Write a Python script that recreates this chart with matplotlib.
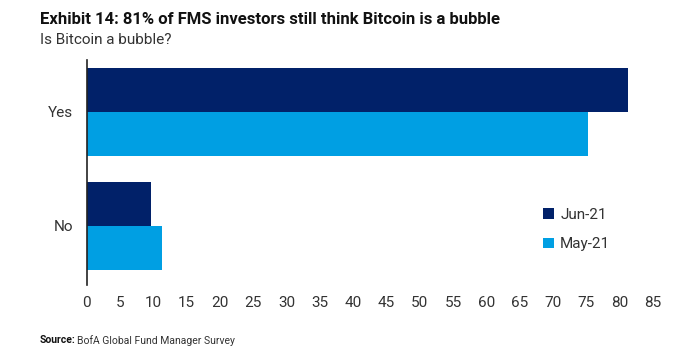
import matplotlib.pyplot as plt
import numpy as np

plt.rcParams['font.family'] = ['Roboto', 'DejaVu Sans']

categories = ['No', 'Yes']
jun21 = [9.7, 81.3]
may21 = [11.3, 75.3]
xticks = list(range(0, 90, 5))

navy = '#012169'
light = '#009FE3'

fig = plt.figure(figsize=(7, 3.5), dpi=100)
ax = fig.add_axes([0.124, 0.186, 0.809, 0.643])

y = np.arange(len(categories))
h = 0.386
ax.barh(y + h / 2, jun21, height=h, color=navy, label='Jun-21')
ax.barh(y - h / 2, may21, height=h, color=light, label='May-21')

ax.set_xlim(0, 85)
ax.set_ylim(-0.518, 1.456)
ax.set_xticks(xticks)
ax.set_yticks(y)
ax.set_yticklabels(categories)
ax.tick_params(axis='both', length=0, labelsize=11, colors='#333333')
ax.tick_params(axis='x', pad=8)
ax.tick_params(axis='y', pad=10)
for s in ['top', 'right', 'bottom']:
    ax.spines[s].set_visible(False)
ax.spines['left'].set_color('#222222')
ax.spines['left'].set_linewidth(1.2)

ax.legend(loc='center left', bbox_to_anchor=(0.782, 0.245), frameon=False,
          fontsize=11, handlelength=0.7, handleheight=0.7, handletextpad=0.4,
          labelspacing=1.0, labelcolor='#333333')

fig.text(0.057, 0.965, 'Exhibit 14: 81% of FMS investors still think Bitcoin is a bubble',
         fontsize=12, fontweight='bold', va='top', color='#111111')
fig.text(0.057, 0.905, 'Is Bitcoin a bubble?', fontsize=11, va='top', color='#333333')
fig.text(0.057, 0.028, 'Source:', fontsize=7.5, fontweight='bold', va='center', color='#111111')
fig.text(0.11, 0.028, 'BofA Global Fund Manager Survey', fontsize=7.5, va='center', color='#333333')

fig.savefig('out.png', dpi=100)
